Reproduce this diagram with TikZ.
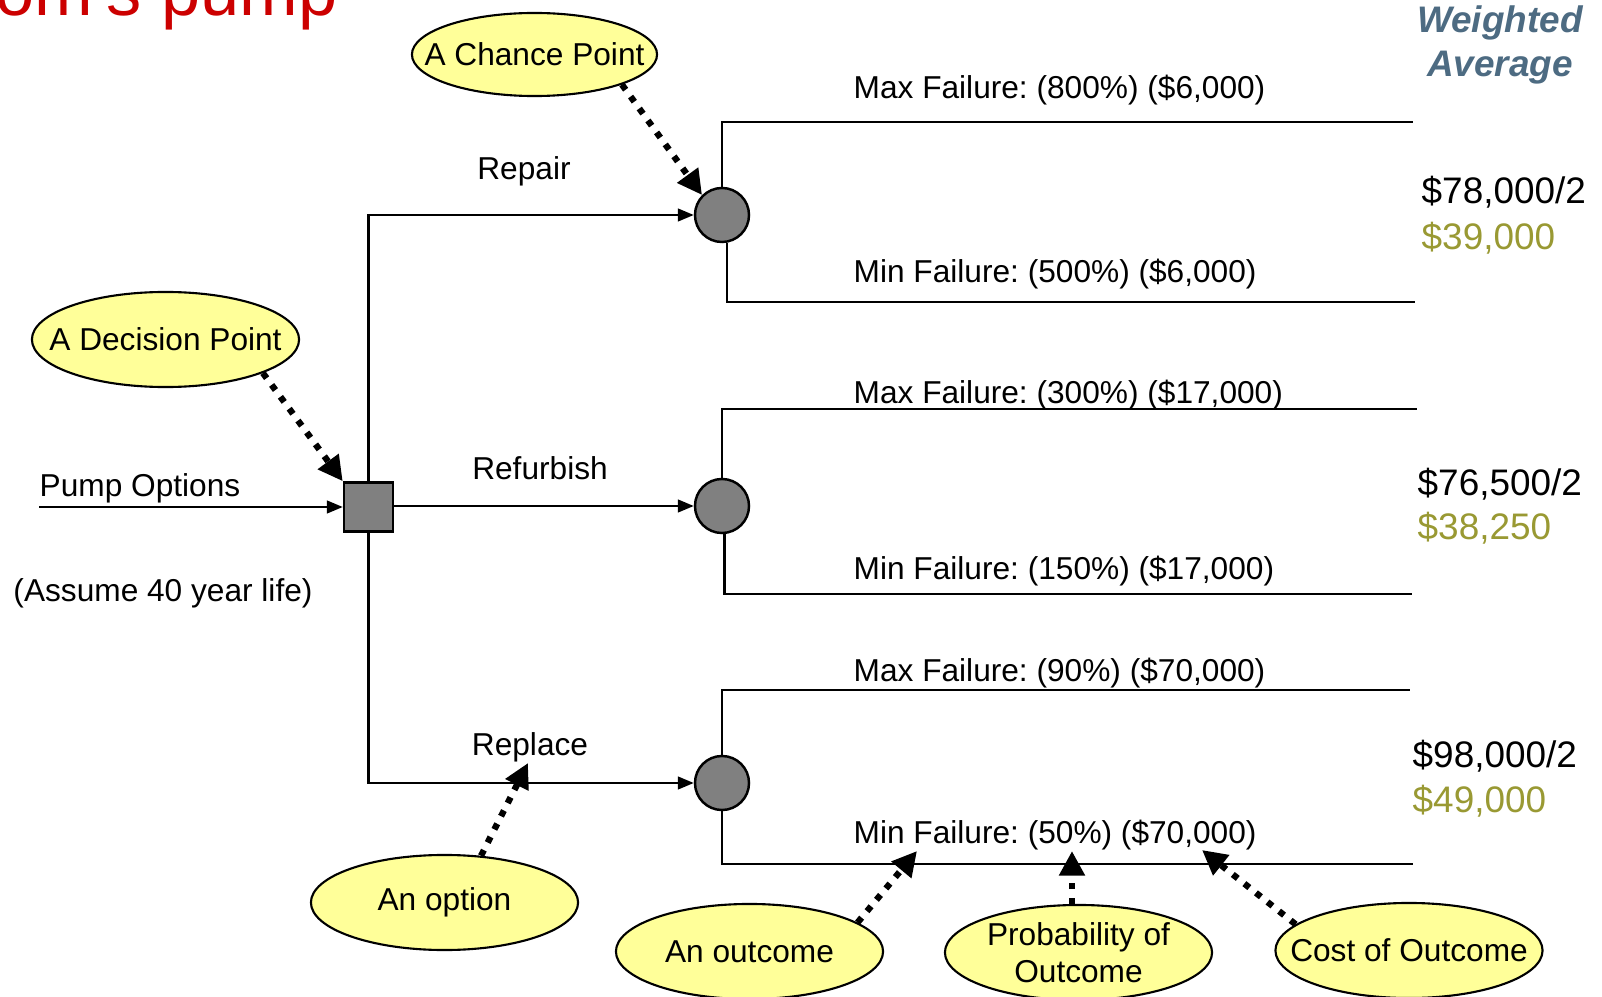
\documentclass[tikz,border=0pt]{standalone}
\usepackage{fontspec}
\setmainfont{Liberation Sans}
\usetikzlibrary{shapes.geometric, arrows.meta, positioning}
\definecolor{notefill}{RGB}{255,255,153}
\definecolor{nodegray}{RGB}{128,128,128}
\definecolor{titlered}{RGB}{204,0,0}
\definecolor{avgblue}{RGB}{77,107,130}
\definecolor{avgolive}{RGB}{153,153,51}
\frenchspacing

\begin{document}
\begin{tikzpicture}[
    x=0.01cm, y=-0.01cm,
    note/.style={ellipse, draw=black, fill=notefill, line width=0.6pt, minimum width=2.67cm, minimum height=0.95cm, inner xsep=-0.4cm, inner ysep=-0.2cm, align=center, font=\fontsize{9}{10.5}\selectfont},
    decbox/.style={rectangle, draw=black, fill=nodegray, line width=0.7pt, minimum size=0.49cm, inner sep=0pt},
    chance/.style={circle, draw=black, fill=nodegray, line width=0.7pt, minimum size=0.54cm, inner sep=0pt},
    arr/.style={-{Triangle[length=4.5pt, width=3.6pt]}, line width=0.6pt},
    pointer/.style={-{Triangle[length=7pt, width=7pt]}, line width=1.8pt, dash pattern=on 1.8pt off 2.4pt},
    lbl/.style={font=\fontsize{9}{11}\selectfont, inner sep=0pt},
    val/.style={font=\fontsize{10.5}{13}\selectfont, inner sep=0pt, anchor=base west},
]
\useasboundingbox (0,0) rectangle (1602,997);
\clip (0,0) rectangle (1602,997);

% Title
\node[font=\fontsize{20}{24}\selectfont, text=titlered, anchor=base east, inner sep=0pt] (title) at (338,16) {om\textquotesingle s pump};

% Decision and chance points
\node[decbox] (dec) at (368.5,507) {};
\node[chance] (rep) at (722,215) {};
\node[chance] (ref) at (722,506) {};
\node[chance] (rpl) at (722,783) {};

% Input
\coordinate (pumpin) at (39,507);
\draw[arr] (pumpin) -- (dec.west);
\node[lbl, anchor=base west] (pumplbl) at (39,497) {Pump Options};
\node[lbl, anchor=base] (lifelbl) at (163,601) {(Assume 40 year life)};

% Options
\draw[arr] (dec.north) |- (rep.west);
\draw[arr] (ref.west -| dec.east) -- (ref.west);
\draw[arr] (dec.south) |- (rpl.west);
\node[lbl, anchor=base] (repairlbl) at (524,180) {Repair};
\node[lbl, anchor=base] (refurblbl) at (540,479) {Refurbish};
\node[lbl, anchor=base] (replacelbl) at (530,755) {Replace};

% Outcomes
\coordinate (rephi) at (1413,122);
\coordinate (replo) at (1415,302);
\coordinate (refhi) at (1417,409);
\coordinate (reflo) at (1412,594);
\coordinate (rplhi) at (1410,690);
\coordinate (rpllo) at (1413,864);
\draw[line width=0.6pt] (rep.north) |- (rephi);
\draw[line width=0.6pt] (rep.-80) |- (replo);
\draw[line width=0.6pt] (ref.north) |- (refhi);
\draw[line width=0.6pt] (ref.-85) |- (reflo);
\draw[line width=0.6pt] (rpl.north) |- (rplhi);
\draw[line width=0.6pt] (rpl.south) |- (rpllo);
\node[lbl, anchor=base west] (rephilbl) at (853,99) {Max Failure: (800\%) (\$6,000)};
\node[lbl, anchor=base west] (replolbl) at (853,283) {Min Failure: (500\%) (\$6,000)};
\node[lbl, anchor=base west] (refhilbl) at (853,404) {Max Failure: (300\%) (\$17,000)};
\node[lbl, anchor=base west] (reflolbl) at (853,579) {Min Failure: (150\%) (\$17,000)};
\node[lbl, anchor=base west] (rplhilbl) at (853,682) {Max Failure: (90\%) (\$70,000)};
\node[lbl, anchor=base west] (rpllolbl) at (853,843) {Min Failure: (50\%) (\$70,000)};

% Weighted averages
\node[font=\fontsize{10.5}{12.5}\selectfont\bfseries\itshape, text=avgblue, align=center, inner sep=0pt] (wavg) at (1500,45) {Weighted\\Average};
\node[val] (avg1) at (1421,204) {\$78,000/2};
\node[val, text=avgolive] (avg1b) at (1421,250) {\$39,000};
\node[val] (avg2) at (1417,495) {\$76,500/2};
\node[val, text=avgolive] (avg2b) at (1417,540) {\$38,250};
\node[val] (avg3) at (1412,767) {\$98,000/2};
\node[val, text=avgolive] (avg3b) at (1412,812) {\$49,000};

% Callouts
\node[note, minimum width=2.45cm, minimum height=0.83cm] (chancenote) at (534.5,54.5) {A Chance Point};
\node[note] (decnote) at (165.5,339.5) {A Decision Point};
\node[note] (optnote) at (444.5,902.5) {An option};
\node[note] (outnote) at (749.5,951.5) {An outcome};
\node[note] (probnote) at (1078.5,952.5) {Probability of\\Outcome};
\node[note] (costnote) at (1409,950.5) {Cost of Outcome};

\coordinate (optpt) at (528,763);
\coordinate (outpt) at (917,851);
\coordinate (probpt) at (1072,851);
\coordinate (costpt) at (1202,850);
\draw[pointer] (chancenote.-19) -- (rep.135);
\draw[pointer] (decnote.-19) -- (dec.north west);
\draw[pointer] (optnote.52) -- (optpt);
\draw[pointer] (outnote.15) -- (outpt);
\draw[pointer] (probpt |- probnote.north) -- (probpt);
\draw[pointer] (costnote.167) -- (costpt);

\end{tikzpicture}
\end{document}
